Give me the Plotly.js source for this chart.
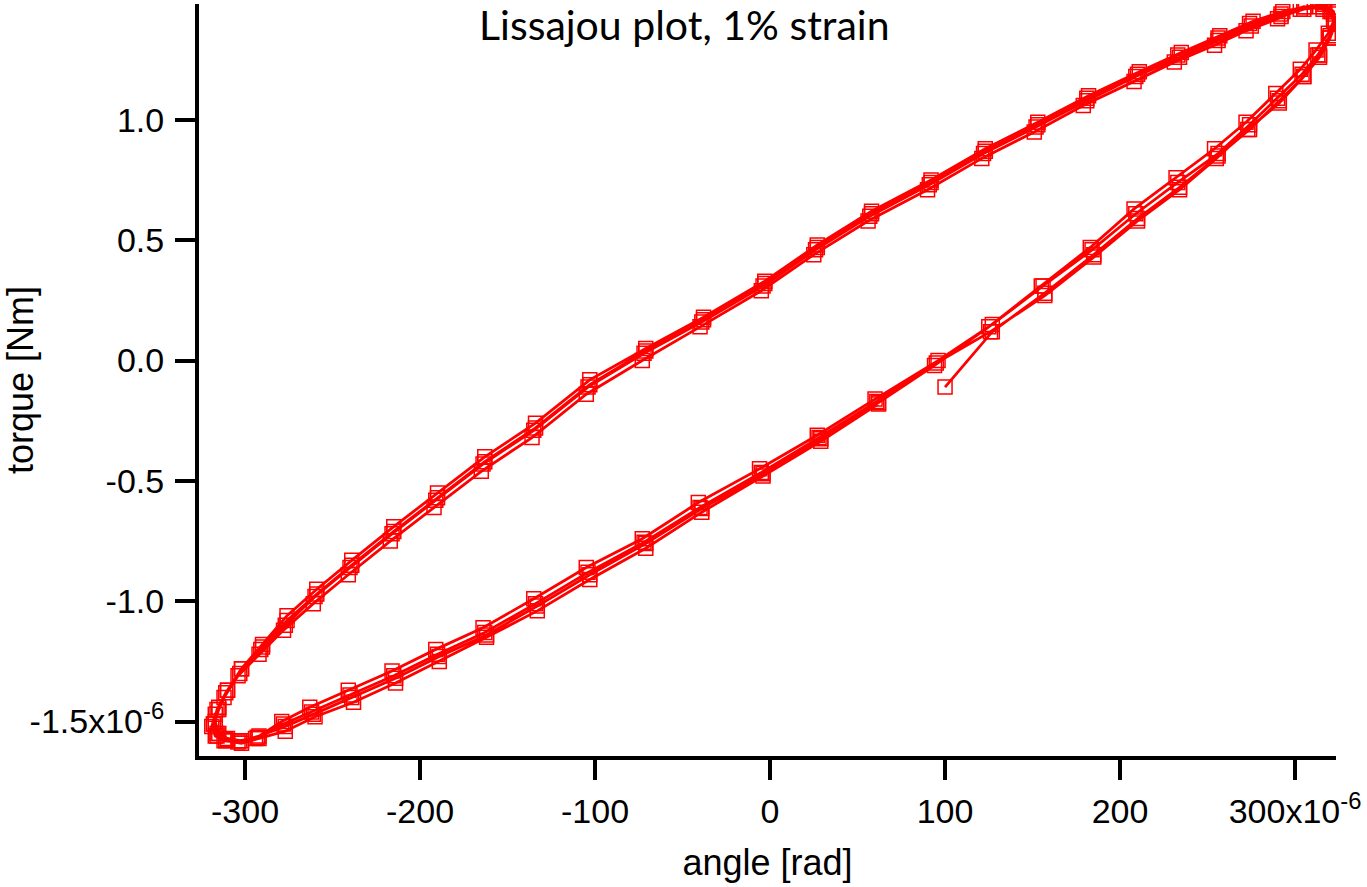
<!DOCTYPE html>
<html>
<head>
<meta charset="utf-8">
<script src="https://cdn.plot.ly/plotly-3.0.1.min.js"></script>
<style>html,body{margin:0;padding:0;background:#fff;}#chart{width:1367px;height:887px;}</style>
</head>
<body>
<div id="chart"></div>
<script>
// angle in units of 1e-6 rad, torque in units of 1e-6 Nm
const cycle1Angle = [100,127,157,185,210,234,256,274,291,305,314,320,323,322,316,305,292,274,256,233,210,181,153,123,92,58,27,-3,-38,-71,-103,-134,-163,-190,-215,-239,-259,-276,-290,-302,-310,-315,-317,-315,-310,-302,-292,-277,-261,-239,-214,-189,-162,-133,-103,-71,-39,-4,29,62];
const cycle1Torque = [-0.11,0.12,0.28,0.44,0.59,0.72,0.85,0.96,1.08,1.18,1.26,1.34,1.40,1.44,1.46,1.47,1.44,1.40,1.34,1.27,1.19,1.09,0.98,0.87,0.74,0.61,0.47,0.32,0.17,0.04,-0.10,-0.28,-0.42,-0.57,-0.71,-0.85,-0.97,-1.08,-1.19,-1.28,-1.37,-1.44,-1.50,-1.55,-1.57,-1.58,-1.56,-1.52,-1.47,-1.40,-1.32,-1.23,-1.14,-1.02,-0.89,-0.76,-0.615,-0.47,-0.325,-0.175];

const cycle2Angle = [94,125,155,183,208,232,254,272,289,303,312,319,322,320,314,303,290,272,254,231,208,179,151,121,90,56,25,-5,-40,-73,-105,-136,-165,-192,-217,-241,-261,-278,-292,-304,-312,-317,-319,-317,-312,-304,-294,-279,-263,-241,-216,-191,-164,-135,-105,-73,-41,-6,27,60];
const cycle2Torque = [-0.02,0.14,0.31,0.47,0.63,0.76,0.88,0.99,1.11,1.21,1.29,1.36,1.41,1.45,1.47,1.46,1.42,1.37,1.31,1.24,1.16,1.06,0.95,0.84,0.71,0.58,0.44,0.29,0.14,0.00,-0.14,-0.32,-0.46,-0.61,-0.75,-0.89,-1.01,-1.12,-1.22,-1.31,-1.40,-1.47,-1.52,-1.56,-1.58,-1.585,-1.57,-1.50,-1.44,-1.37,-1.29,-1.20,-1.11,-0.99,-0.86,-0.74,-0.59,-0.45,-0.31,-0.16];

const cycle3Angle = [96,127,156,184,209,233,256,274,290,304,313,320,323,321,316,305,292,275,256,234,209,181,152,122,91,57,26,-4,-39,-72,-104,-135,-164,-191,-216,-240,-260,-277,-291,-303,-311,-316,-318,-316,-311,-303,-293,-278,-262,-240,-215,-190,-163,-134,-104,-72,-40,-5,28,61];
const cycle3Torque = [0.00,0.15,0.31,0.46,0.61,0.74,0.86,0.98,1.09,1.19,1.27,1.35,1.40,1.45,1.47,1.46,1.43,1.39,1.33,1.26,1.18,1.08,0.97,0.86,0.73,0.60,0.46,0.31,0.16,0.03,-0.11,-0.29,-0.43,-0.58,-0.72,-0.86,-0.98,-1.10,-1.20,-1.30,-1.38,-1.45,-1.51,-1.55,-1.575,-1.58,-1.565,-1.51,-1.46,-1.39,-1.31,-1.22,-1.13,-1.01,-0.88,-0.755,-0.61,-0.465,-0.32,-0.17];

const cycle4Angle = [95,126,157,185,210,234,255,273,291,305,314,320,323,322,317,306,293,276,257,235,211,182,153,123,92,58,27,-3,-38,-71,-103,-134,-163,-190,-215,-239,-259,-276,-290,-302,-310,-315,-318,-316,-311,-302,-292,-277,-260,-238,-214,-189,-162,-133,-103,-71,-39,-4,29,62];
const cycle4Torque = [-0.01,0.12,0.27,0.43,0.58,0.71,0.84,0.96,1.07,1.18,1.27,1.34,1.41,1.45,1.48,1.47,1.45,1.41,1.35,1.28,1.20,1.10,0.99,0.88,0.75,0.62,0.48,0.33,0.18,0.05,-0.08,-0.26,-0.40,-0.55,-0.69,-0.83,-0.95,-1.06,-1.18,-1.28,-1.37,-1.45,-1.51,-1.56,-1.58,-1.59,-1.57,-1.54,-1.48,-1.42,-1.34,-1.25,-1.15,-1.04,-0.91,-0.78,-0.63,-0.48,-0.335,-0.18];

const xTickVals = [-300,-200,-100,0,100,200,300];
const xTickText = ['-300','-200','-100','0','100','200','300x10<sup>-6</sup>'];
const yTickVals = [-1.5,-1.0,-0.5,0.0,0.5,1.0];
const yTickText = ['-1.5x10<sup>-6</sup>','-1.0','-0.5','0.0','0.5','1.0'];
const chartTitle = 'Lissajou plot, 1% strain';

const angle = [].concat(cycle1Angle, cycle2Angle, cycle3Angle, cycle4Angle);
const torque = [].concat(cycle1Torque, cycle2Torque, cycle3Torque, cycle4Torque);

const trace = {
  x: angle, y: torque, type: 'scatter', mode: 'lines+markers',
  line: {color: '#ff0000', width: 2.8},
  marker: {symbol: 'square-open', size: 14, color: '#ff0000', line: {width: 1.5, color: '#ff0000'}},
  hoverinfo: 'x+y'
};

const axisFont = {family: 'Liberation Sans, Arial, sans-serif', size: 34, color: '#000'};
const titleFontAxis = {family: 'Liberation Sans, Arial, sans-serif', size: 36, color: '#000'};

const layout = {
  width: 1367, height: 887,
  margin: {l: 199, r: 31, t: 4, b: 131, pad: 0},
  paper_bgcolor: '#fff', plot_bgcolor: '#fff',
  showlegend: false,
  annotations: [{
    text: chartTitle, xref: 'paper', yref: 'paper',
    x: 0.4274, y: 0.9734, xanchor: 'center', yanchor: 'middle', showarrow: false,
    font: {family: 'Lato, Open Sans, sans-serif', size: 41, color: '#000'}
  }],
  xaxis: {
    range: [-326.3, 323.4], tickvals: xTickVals, ticktext: xTickText,
    ticks: 'outside', ticklen: 20, tickwidth: 4, tickcolor: '#000',
    showline: true, linewidth: 4, linecolor: '#000',
    showgrid: false, zeroline: false, tickfont: axisFont, ticklabelstandoff: 2,
    title: {text: 'angle [rad]', font: titleFontAxis, standoff: 22}
  },
  yaxis: {
    range: [-1.643, 1.4815], tickvals: yTickVals, ticktext: yTickText,
    ticks: 'outside', ticklen: 20, tickwidth: 4, tickcolor: '#000',
    showline: true, linewidth: 4, linecolor: '#000',
    showgrid: false, zeroline: false, tickfont: axisFont, ticklabelstandoff: 4,
    title: {text: 'torque [Nm]', font: titleFontAxis, standoff: 14}
  }
};

Plotly.newPlot('chart', [trace], layout, {displayModeBar: false, staticPlot: true});
</script>
</body>
</html>
